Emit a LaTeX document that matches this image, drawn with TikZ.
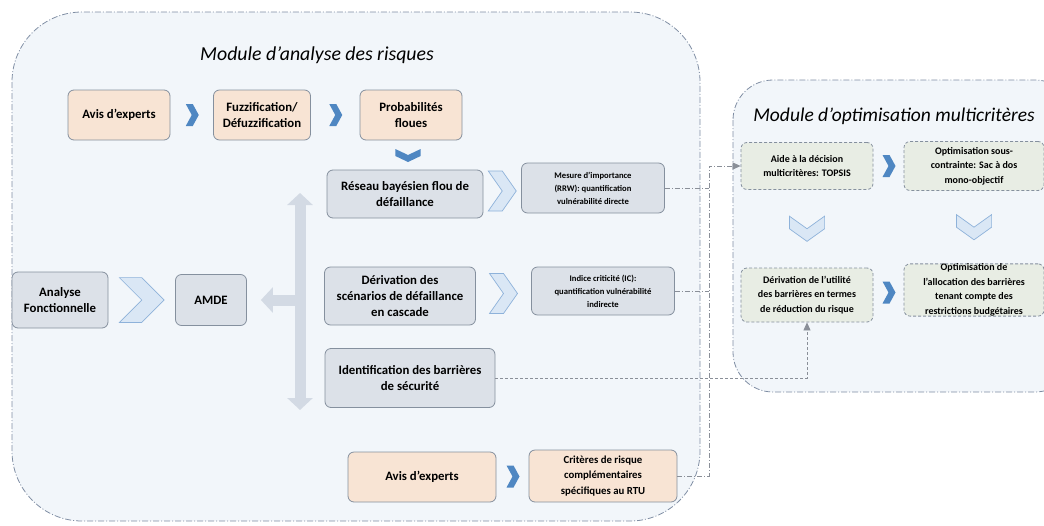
\documentclass[tikz,border=0pt]{standalone}
\usepackage{fontspec}
\setmainfont{Carlito}
\usepackage{xcolor}
\usepackage{tikz}
\usetikzlibrary{positioning,calc,arrows.meta}

\definecolor{modfill}{HTML}{F2F6FA}
\definecolor{modline}{HTML}{7F8DA3}
\definecolor{peach}{HTML}{F8E4D4}
\definecolor{greybox}{HTML}{DCE1E8}
\definecolor{greenbox}{HTML}{E8EDE4}
\definecolor{boxline}{HTML}{85909E}
\definecolor{chevdark}{HTML}{4F87C2}
\definecolor{chevlight}{HTML}{DAE7F5}
\definecolor{chevline}{HTML}{8EB2DA}
\definecolor{bigarrc}{HTML}{D3DAE4}
\definecolor{linkc}{HTML}{8A8F98}

\tikzset{
  box/.style={draw=boxline, line width=0.8pt, rounded corners=6pt, align=center,
    inner sep=2pt, font=\fontsize{12.8}{16}\selectfont\bfseries},
  expert/.style={box, fill=peach},
  grey/.style={box, fill=greybox},
  small/.style={font=\fontsize{8.6}{13}\selectfont\bfseries},
  optbox/.style={box, fill=greenbox, dashed, dash pattern=on 3pt off 2pt,
    font=\fontsize{10}{14.5}\selectfont\bfseries},
  modbox/.style={fill=modfill, draw=modline, line width=0.8pt,
    dash pattern=on 6pt off 2pt on 1pt off 2pt},
  link/.style={draw=linkc, line width=0.8pt, dash pattern=on 5pt off 2pt on 1pt off 2pt},
  bigarr/.style={draw=bigarrc, line width=11pt},
  pics/smallchev/.style={code={
    \fill[chevdark] (-6,-11) -- (1,-11) -- (7,0) -- (1,11) -- (-6,11) -- (0,0) -- cycle;}},
  pics/bigchev/.style={code={
    \filldraw[fill=chevlight, draw=chevline, line width=0.7pt]
      (-14,-20) -- (0,-20) -- (14,0) -- (0,20) -- (-14,20) -- (0,0) -- cycle;}},
}

\begin{document}
\begin{tikzpicture}[x=1pt, y=-1pt, >={Triangle[length=8pt,width=7pt]}]
\useasboundingbox (0,0) rectangle (1044,525);

% modules
\path[modbox, rounded corners=70pt] (12,12) rectangle (700,521);
\path[modbox, rounded corners=40pt] (733,80) rectangle (1075,392);
\node (t1) at (317,55) {\fontsize{19.8}{23}\selectfont\itshape Module d’analyse des risques};
\node (t2) at (894,116) {\fontsize{19.5}{23}\selectfont\itshape Module d’optimisation multicritères};

% analyse des risques
\node[expert, minimum width=102pt, minimum height=50pt] (av1) at (119,115) {Avis d’experts};
\node[expert, minimum width=97pt, minimum height=50pt] (fuz) at (262,115) {Fuzzification/\\Défuzzification};
\node[expert, minimum width=102pt, minimum height=50pt] (prob) at (411,115) {Probabilités\\floues};
\node[grey, minimum width=156pt, minimum height=48pt] (res) at (405,194) {Réseau bayésien flou de\\défaillance};
\node[grey, small, minimum width=143pt, minimum height=50pt] (rrw) at (593,188) {Mesure d’importance\\(RRW): quantification\\vulnérabilité directe};
\node[grey, minimum width=151pt, minimum height=58pt] (der) at (400,296) {Dérivation des\\scénarios de défaillance\\en cascade};
\node[grey, small, minimum width=143pt, minimum height=48pt] (ic) at (603,291) {Indice criticité (IC):\\quantification vulnérabilité\\indirecte};
\node[grey, minimum width=170pt, minimum height=59pt] (ident) at (410,378) {Identification des barrières\\de sécurité};
\node[expert, minimum width=148pt, minimum height=50pt] (av2) at (422,477) {Avis d’experts};
\node[expert, font=\fontsize{10.8}{15.5}\selectfont\bfseries, minimum width=148pt, minimum height=52pt] (crit) at (603,476) {Critères de risque\\complémentaires\\spécifiques au RTU};
\node[grey, minimum width=96pt, minimum height=56pt] (af) at (60,300) {Analyse\\Fonctionnelle};
\node[grey, minimum width=71pt, minimum height=51pt] (amde) at (211,300) {AMDE};

% optimisation multicriteres
\node[optbox, minimum width=132pt, minimum height=47pt] (aide) at (807,166) {Aide à la décision\\multicritères: TOPSIS};
\node[optbox, minimum width=140pt, minimum height=49pt] (opt1) at (974,166) {Optimisation sous-\\contrainte: Sac à dos\\mono-objectif};
\node[optbox, minimum width=132pt, minimum height=54pt] (util) at (807,295) {Dérivation de l’utilité\\des barrières en termes\\de réduction du risque};
\node[optbox, minimum width=140pt, minimum height=51pt, inner sep=0pt] (opt2) at (974,290) {Optimisation de\\l’allocation des barrières\\tenant compte des\\restrictions budgétaires};

% chevrons
\pic at ($(av1.east)!0.5!(fuz.west)$) {smallchev};
\pic at ($(fuz.east)!0.5!(prob.west)$) {smallchev};
\pic[rotate=-90, yscale=1.15] at ($(prob.south)!0.5!(res.north)$) {smallchev};
\pic at ($(av2.east)!0.5!(crit.west)$) {smallchev};
\pic at ($(aide.east)!0.5!(opt1.west)$) {smallchev};
\pic at ($(util.east)!0.5!(opt2.west)$) {smallchev};
\pic at ($(res.east)!0.5!(rrw.west)$) {bigchev};
\pic at ($(der.east)!0.5!(ic.west)$) {bigchev};
\pic[xscale=1.6, yscale=1.12] at ($(af.east)!0.5!(amde.west)$) {bigchev};
\pic[rotate=-90, xscale=0.9, yscale=0.88] at ($(aide.south)!0.5!(util.north)$) {bigchev};
\pic[rotate=-90, xscale=0.9, yscale=0.88] at ($(opt1.south)!0.5!(opt2.north)$) {bigchev};

% double arrow AMDE
\coordinate (hub) at (300,300);
\coordinate (hubtop) at (300,193);
\coordinate (hubbot) at (300,410);
\draw[bigarr, {Triangle[width=25pt,length=12pt]}-{Triangle[width=25pt,length=12pt]}] (hubtop) -- (hubbot);
\draw[bigarr, -{Triangle[width=25pt,length=12pt]}, shorten >=14pt] (hub) -- (amde.east);

% links
\coordinate (bus) at (709,0);
\draw[link] (rrw.east) -- (bus |- rrw.east);
\draw[link] (ic.east) -- (bus |- ic.east);
\draw[link, ->] (crit.east) -- (bus |- crit.east) -- (bus |- aide.west) -- (aide.west);
\draw[link, dash pattern=on 3pt off 2pt, ->] (ident.east) -| (util.south);
\end{tikzpicture}
\end{document}
